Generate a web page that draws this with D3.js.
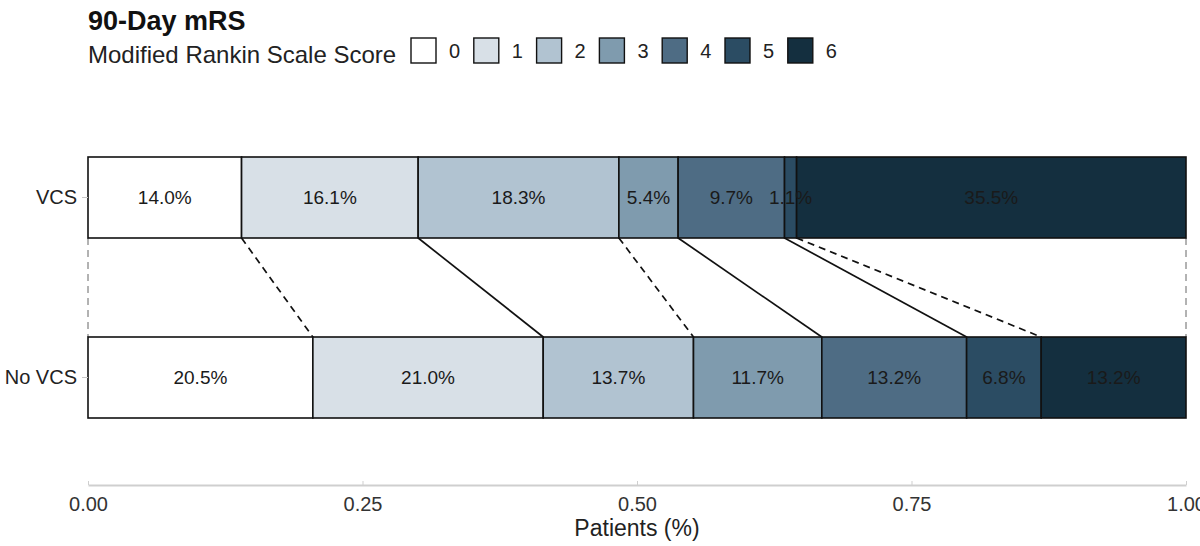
<!DOCTYPE html>
<html>
<head>
<meta charset="utf-8">
<script src="https://cdn.jsdelivr.net/npm/d3@7"></script>
<style>
  body { margin: 0; background: #fff; }
  svg { font-family: "Liberation Sans", Arial, sans-serif; }
</style>
</head>
<body>
<svg id="chart" width="1200" height="546"></svg>
<script>
// data
const groups = ['VCS', 'No VCS'];
const scores = ['0', '1', '2', '3', '4', '5', '6'];
const vcs = [14.0, 16.1, 18.3, 5.4, 9.7, 1.1, 35.5];
const noVcs = [20.5, 21.0, 13.7, 11.7, 13.2, 6.8, 13.2];
const xTicks = [0, 0.25, 0.5, 0.75, 1];
// line type of each connector, from left edge to right edge
const connectorDash = [true, true, false, true, false, false, true, true];

const colors = ['#ffffff', '#d8e0e7', '#b1c3d1', '#7f9bae', '#4e6c84', '#2b4c63', '#142f3f'];

const svg = d3.select('#chart');

const x = d3.scaleLinear().domain([0, 1]).range([88, 1186]);
const y = d3.scaleBand().domain(groups).range([139, 436]).paddingInner(0.55).paddingOuter(0.1);

function stack(vals) {
  const total = d3.sum(vals);
  let acc = 0;
  return vals.map((v, i) => {
    const d = { score: scores[i], v: v, x0: acc / total, x1: (acc + v) / total };
    acc += v;
    return d;
  });
}

const rows = [
  { group: 'VCS', segs: stack(vcs) },
  { group: 'No VCS', segs: stack(noVcs) },
];

// connectors between bars
const edgesTop = [0].concat(rows[0].segs.map(d => d.x1));
const edgesBot = [0].concat(rows[1].segs.map(d => d.x1));
const isOuter = d => d.t === 0 || d.t >= 0.999;
svg.append('g')
  .selectAll('line')
  .data(edgesTop.map((t, i) => ({ t: t, b: edgesBot[i], dash: connectorDash[i] })))
  .join('line')
  .attr('x1', d => x(d.t))
  .attr('x2', d => x(d.b))
  .attr('y1', y('VCS') + y.bandwidth())
  .attr('y2', y('No VCS'))
  .attr('stroke', d => isOuter(d) ? '#666' : '#111')
  .attr('stroke-width', d => isOuter(d) ? 1 : 1.7)
  .attr('stroke-dasharray', d => d.dash ? '7,5' : null);

// bars
const rowG = svg.append('g')
  .selectAll('g')
  .data(rows)
  .join('g')
  .attr('transform', d => `translate(0,${y(d.group)})`);

rowG.selectAll('rect')
  .data(d => d.segs)
  .join('rect')
  .attr('x', d => x(d.x0))
  .attr('width', d => x(d.x1) - x(d.x0))
  .attr('y', 0)
  .attr('height', y.bandwidth())
  .attr('fill', (d, i) => colors[i])
  .attr('stroke', '#111')
  .attr('stroke-width', 1.6);

rowG.selectAll('text')
  .data(d => d.segs)
  .join('text')
  .attr('x', d => (x(d.x0) + x(d.x1)) / 2)
  .attr('y', y.bandwidth() / 2)
  .attr('dy', '0.36em')
  .attr('text-anchor', 'middle')
  .attr('font-size', 19)
  .attr('fill', '#1a1a1a')
  .text(d => d.v.toFixed(1) + '%');

// y axis labels
const yAxis = svg.append('g')
  .attr('transform', 'translate(88,0)')
  .call(d3.axisLeft(y).tickSize(6).tickPadding(5));
yAxis.select('.domain').remove();
yAxis.selectAll('.tick line').attr('stroke', '#c8c8c8');
yAxis.selectAll('.tick text').attr('font-size', 20).attr('fill', '#222').style('font-family', 'Liberation Sans, Arial, sans-serif');

// x axis
const xAxis = svg.append('g')
  .attr('transform', 'translate(0,485)')
  .call(d3.axisBottom(x).tickValues(xTicks).tickFormat(d3.format('.2f')).tickSizeInner(-4).tickSizeOuter(0).tickPadding(12));
xAxis.select('.domain').attr('stroke', '#cfcfcf').attr('stroke-width', 2);
xAxis.selectAll('.tick line').attr('stroke', '#cfcfcf');
xAxis.selectAll('.tick text').attr('font-size', 20).attr('fill', '#333').style('font-family', 'Liberation Sans, Arial, sans-serif');

svg.append('text')
  .attr('x', x(0.5))
  .attr('y', 536)
  .attr('text-anchor', 'middle')
  .attr('font-size', 23)
  .attr('fill', '#222')
  .text('Patients (%)');

// title
svg.append('text')
  .attr('x', 88)
  .attr('y', 30)
  .attr('font-size', 27)
  .attr('font-weight', 'bold')
  .attr('fill', '#111')
  .text('90-Day mRS');

// legend
const legend = svg.append('g').attr('transform', 'translate(88,0)');
legend.append('text')
  .attr('x', 0)
  .attr('y', 63)
  .attr('font-size', 24)
  .attr('fill', '#222')
  .text('Modified Rankin Scale Score');

const item = legend.selectAll('g.item')
  .data(scores)
  .join('g')
  .attr('class', 'item')
  .attr('transform', (d, i) => `translate(${323 + i * 62.8},38)`);
item.append('rect')
  .attr('width', 25)
  .attr('height', 25)
  .attr('fill', (d, i) => colors[i])
  .attr('stroke', '#111')
  .attr('stroke-width', 1.4);
item.append('text')
  .attr('x', 38)
  .attr('y', 20)
  .attr('font-size', 20)
  .attr('fill', '#222')
  .text(d => d);
</script>
</body>
</html>
